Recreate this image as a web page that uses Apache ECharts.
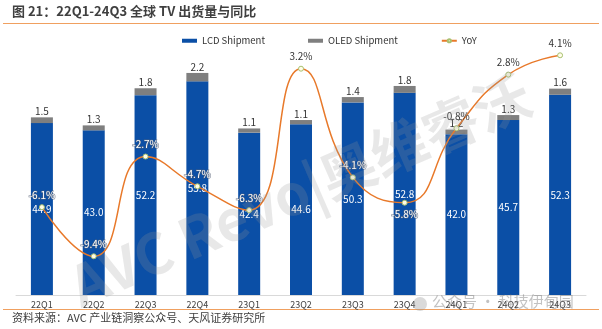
<!DOCTYPE html>
<html><head><meta charset="utf-8">
<script src="https://cdn.jsdelivr.net/npm/echarts@6/dist/echarts.min.js"></script>
<style>html,body{margin:0;padding:0;background:#fff}#c{width:602px;height:329px}</style>
</head><body><div id="c"></div>
<script>
const categories = ['22Q1','22Q2','22Q3','22Q4','23Q1','23Q2','23Q3','23Q4','24Q1','24Q2','24Q3'];
const lcdShipment = [44.9,43.0,52.2,55.8,42.4,44.6,50.3,52.8,42.0,45.7,52.3];
const oledShipment = [1.5,1.3,1.8,2.2,1.1,1.1,1.4,1.8,1.2,1.3,1.6];
const yoy = [-6.1,-9.4,-2.7,-4.7,-6.3,3.2,-4.1,-5.8,-0.8,2.8,4.1];
const yoyInsideBar = [true,true,true,true,true,false,true,true,false,false,false];
const yoyBelow = [false,false,false,false,false,false,false,true,false,false,false];

const FONT = '"Noto Sans CJK SC","Noto Sans",sans-serif';
const chart = echarts.init(document.getElementById('c'), null, {renderer:'canvas'});
chart.setOption({
  animation:false,
  textStyle:{fontFamily:FONT},
  graphic:[
    {type:'text', left:12, top:5, style:{text:'图 21：22Q1-24Q3 全球 TV 出货量与同比', font:'bold 13px '+FONT, fill:'#404040'}},
    {type:'line', shape:{x1:3,y1:23.5,x2:599,y2:23.5}, style:{stroke:'#F0A060',lineWidth:1}},
    {type:'line', shape:{x1:3,y1:309.5,x2:599,y2:309.5}, style:{stroke:'#F0A060',lineWidth:1}},
    {type:'text', left:12, top:312, style:{text:'资料来源：AVC 产业链洞察公众号、天风证券研究所', font:'11px '+FONT, fill:'#404040'}},
    {type:'text', x:300, y:190, rotation:23.5*Math.PI/180, z:100, style:{text:'AVC Revo|奥维睿沃', font:'bold 56px '+FONT, fill:'rgba(150,150,150,0.22)', align:'center', verticalAlign:'middle'}},
    {type:'text', left:432, top:294, z:100, style:{text:'公众号 · 科技伊甸园', font:'15px '+FONT, fill:'rgba(120,120,120,0.45)'}},
    {type:'circle', shape:{cx:420,cy:304,r:7}, z:100, style:{fill:'rgba(150,150,150,0.35)'}}
  ],
  legend:{
    left:177, top:31, itemWidth:15, itemHeight:4, itemGap:43,
    textStyle:{fontSize:9.5, color:'#333', fontFamily:FONT},
    data:[
      {name:'LCD Shipment', icon:'rect'},
      {name:'OLED Shipment', icon:'rect'},
      {name:'YoY'}
    ]
  },
  grid:{left:16, right:16, top:27, bottom:34},
  xAxis:{
    type:'category', data:categories,
    axisLine:{lineStyle:{color:'#D9D9D9'}},
    axisTick:{show:false},
    axisLabel:{fontSize:9, color:'#404040', margin:5, fontFamily:FONT}
  },
  yAxis:[
    {type:'value', min:0, max:70, show:false, splitLine:{show:false}},
    {type:'value', min:-12, max:6, show:false, splitLine:{show:false}}
  ],
  series:[
    {name:'LCD Shipment', type:'bar', stack:'s', barWidth:22, data:lcdShipment,
     itemStyle:{color:'#0B4FA6'},
     label:{show:true, position:'inside', color:'#fff', fontSize:10, formatter:p=>p.value.toFixed(1)}},
    {name:'OLED Shipment', type:'bar', stack:'s', barWidth:22, data:oledShipment,
     itemStyle:{color:'#7F7F7F'},
     label:{show:true, position:'top', color:'#333', fontSize:10, distance:1, formatter:p=>p.value.toFixed(1)}},
    {name:'YoY', type:'line', yAxisIndex:1, smooth:0.5, z:5,
     data:yoy.map((v,i)=>({value:v, label:yoyInsideBar[i]
        ? {color:'#fff', textBorderColor:'rgba(90,100,120,0.75)', textBorderWidth:1.2, position: yoyBelow[i]?'bottom':'top'}
        : {color:'#333', position: yoyBelow[i]?'bottom':'top'}})),
     lineStyle:{color:'#E8792A', width:1.5},
     itemStyle:{color:'#FFFDE8', borderColor:'#A8C070', borderWidth:1},
     symbol:'circle', symbolSize:5,
     label:{show:true, fontSize:10, distance:4, formatter:p=>p.value.toFixed(1)+'%'}}
  ]
});
</script></body></html>
